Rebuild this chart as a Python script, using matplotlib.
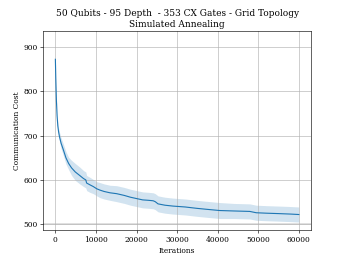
import matplotlib
matplotlib.use("Agg")
import matplotlib.pyplot as plt
import numpy as np

iterations = [0, 100, 250, 420, 600, 800, 1000, 1400, 2000, 2600, 3270, 4000, 4900, 6000, 6950,
              7500, 7700, 8500, 9350, 10200, 11000, 12000, 13450, 15100, 17000, 18500,
              20000, 21500, 23000, 24100, 24600, 25300, 27000, 29000, 32000, 34800,
              37000, 40500, 44000, 47900, 49500, 52000, 55200, 58000, 60000]
mean_cost = [872, 830, 780, 745, 722, 708, 698, 683, 667, 650, 637, 627, 618, 610, 603,
             600, 593, 589, 585, 580, 577, 574, 571, 569, 565, 561,
             558, 555, 554, 553, 551, 546, 543, 541, 539, 536,
             534, 531, 530, 529, 526, 525, 524, 523, 522]
std_cost = [3, 3, 4, 6, 7, 8, 10, 12, 13, 14, 14, 17, 19, 19, 18,
            18, 17, 17, 16, 16, 17, 17, 17, 18, 18, 18,
            18, 18, 18, 18, 18, 18, 18, 18, 18, 18,
            18, 18, 17, 17, 17, 17, 17, 17, 17]

x = np.array(iterations)
m = np.array(mean_cost)
s = np.array(std_cost)

plt.rcParams['font.family'] = 'DejaVu Serif'
fig, ax = plt.subplots(figsize=(6.4, 4.8), dpi=54)
ax.axhline(500, color='#e0e0e0', lw=2.6, zorder=0)
ax.grid(True, color='#b0b0b0', lw=0.8)
ax.fill_between(x, m - s, m + s, color='#1f77b4', alpha=0.2, lw=0)
ax.plot(x, m, color='#1f77b4', lw=1.5)
ax.set_xlim(-3000, 63000)
ax.set_ylim(486, 936)
ax.set_xticks([0, 10000, 20000, 30000, 40000, 50000, 60000])
ax.set_yticks([500, 600, 700, 800, 900])
ax.set_title("50 Qubits - 95 Depth  - 353 CX Gates - Grid Topology\nSimulated Annealing",
             fontsize=12)
ax.set_xlabel("Iterations", fontsize=10)
ax.set_ylabel("Communication Cost", fontsize=10)
ax.tick_params(labelsize=10)
fig.savefig("out.png", dpi=54)
